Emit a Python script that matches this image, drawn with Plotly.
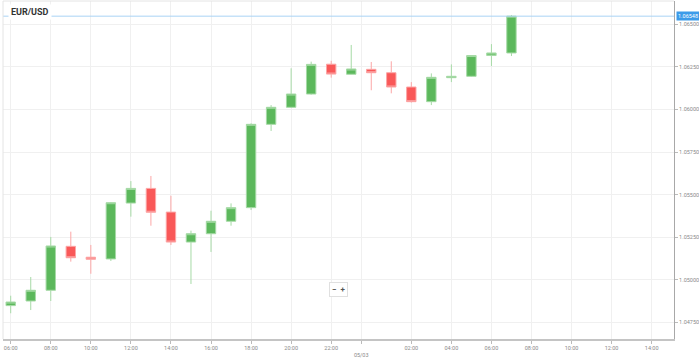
import plotly.graph_objects as go
import pandas as pd

# ---- data ----
times = pd.date_range("2024-03-04 06:00", "2024-03-05 07:00", freq="h")
opens  = [1.04849, 1.04876, 1.04939, 1.05197, 1.05133, 1.05123, 1.05451, 1.05537, 1.05398, 1.05222,
          1.05271, 1.05344, 1.05424, 1.05913, 1.06013, 1.06091, 1.06266, 1.06207, 1.06236, 1.06216,
          1.06132, 1.06046, 1.06187, 1.06195, 1.06317, 1.06332]
highs  = [1.04907, 1.05017, 1.05252, 1.05283, 1.05205, 1.05457, 1.05580, 1.05610, 1.05494, 1.05289,
          1.05406, 1.05449, 1.05919, 1.06026, 1.06242, 1.06281, 1.06286, 1.06379, 1.06279, 1.06283,
          1.06161, 1.06212, 1.06265, 1.06320, 1.06384, 1.06555]
lows   = [1.04804, 1.04823, 1.04876, 1.05107, 1.05036, 1.05111, 1.05371, 1.05318, 1.05205, 1.04976,
          1.05164, 1.05318, 1.05410, 1.05874, 1.06009, 1.06087, 1.06187, 1.06206, 1.06113, 1.06095,
          1.06041, 1.06026, 1.06161, 1.06191, 1.06255, 1.06314]
closes = [1.04870, 1.04939, 1.05199, 1.05130, 1.05121, 1.05453, 1.05537, 1.05397, 1.05222, 1.05271,
          1.05344, 1.05424, 1.05913, 1.06013, 1.06091, 1.06265, 1.06208, 1.06238, 1.06216, 1.06132,
          1.06046, 1.06189, 1.06195, 1.06317, 1.06332, 1.06548]
last_price = 1.06548
symbol = "EUR/USD"

x_tick_vals = ["2024-03-04 06:00", "2024-03-04 08:00", "2024-03-04 10:00", "2024-03-04 12:00",
               "2024-03-04 14:00", "2024-03-04 16:00", "2024-03-04 18:00", "2024-03-04 20:00",
               "2024-03-04 22:00", "2024-03-04 23:30", "2024-03-05 02:00", "2024-03-05 04:00",
               "2024-03-05 06:00", "2024-03-05 08:00", "2024-03-05 10:00", "2024-03-05 12:00",
               "2024-03-05 14:00"]
x_tick_text = ["06:00", "08:00", "10:00", "12:00", "14:00", "16:00", "18:00", "20:00", "22:00",
               "<br>05/03", "02:00", "04:00", "06:00", "08:00", "10:00", "12:00", "14:00"]
y_tick_vals = [1.04750, 1.05000, 1.05250, 1.05500, 1.05750, 1.06000, 1.06250, 1.06500]

GREEN = "#5cb85c"
RED = "#f95858"

fig = go.Figure()
fig.add_trace(go.Candlestick(
    x=times, open=opens, high=highs, low=lows, close=closes,
    increasing=dict(fillcolor=GREEN, line=dict(color="#a6daa6", width=1)),
    decreasing=dict(fillcolor=RED, line=dict(color="#fca6a6", width=1)),
    whiskerwidth=0, showlegend=False, hoverinfo="skip",
))

tickfont = dict(family="Roboto, sans-serif", size=5.5, color="#8a8a8a")

fig.update_layout(
    width=699, height=358,
    margin=dict(l=3, r=25, t=1, b=19),
    paper_bgcolor="white", plot_bgcolor="white",
    boxgap=0.33,
    xaxis=dict(
        type="date", range=["2024-03-04 05:36:54", "2024-03-05 15:06:54"],
        rangeslider=dict(visible=False),
        tickmode="array", tickvals=x_tick_vals, ticktext=x_tick_text,
        tickfont=tickfont, ticks="outside", ticklen=3, tickcolor="#bbbbbb",
        showgrid=True, gridcolor="#f0f0f0", gridwidth=1,
        showline=True, linecolor="#c4c4c4", linewidth=1.5, zeroline=False,
    ),
    yaxis=dict(
        side="right", range=[1.04653, 1.06637],
        tickmode="array", tickvals=y_tick_vals, tickformat=".5f",
        tickfont=tickfont, ticks="outside", ticklen=3, tickcolor="#bbbbbb",
        showgrid=True, gridcolor="#f0f0f0", gridwidth=1,
        showline=True, linecolor="#a8a8a8", linewidth=1, zeroline=False,
    ),
    shapes=[
        dict(type="line", xref="paper", yref="y", x0=0, x1=1, y0=last_price, y1=last_price,
             line=dict(color="#a9d4f5", width=1)),
        dict(type="line", xref="paper", yref="paper", x0=0, x1=0, y0=0, y1=1,
             line=dict(color="#e4e4e4", width=1)),
        dict(type="line", xref="paper", yref="paper", x0=0, x1=1, y0=1, y1=1,
             line=dict(color="#e4e4e4", width=1)),
    ],
    annotations=[
        dict(xref="paper", yref="y", x=1.003, y=last_price, xanchor="left", yanchor="middle",
             text=f"{last_price:.5f}", showarrow=False, bgcolor="#3d9be9",
             font=dict(family="Roboto, sans-serif", size=5.5, color="white"), borderpad=1),
        dict(xref="paper", yref="paper", x=0.008, y=0.968, xanchor="left", yanchor="middle",
             text=f"<b>{symbol}</b>", showarrow=False, bgcolor="white",
             font=dict(family="Roboto, sans-serif", size=9, color="#333333"), borderpad=2),
        dict(xref="paper", yref="paper", x=0.5007, y=0.145, xanchor="center", yanchor="middle",
             text="<b>−</b>  <b>+</b>", showarrow=False, bgcolor="white", bordercolor="#e0e0e0",
             borderwidth=1, borderpad=2,
             font=dict(family="Roboto, sans-serif", size=8, color="#555555")),
    ],
)

fig.write_html("out.html", config={"displayModeBar": False, "staticPlot": True},
               post_script="document.body.style.margin='0px';")
